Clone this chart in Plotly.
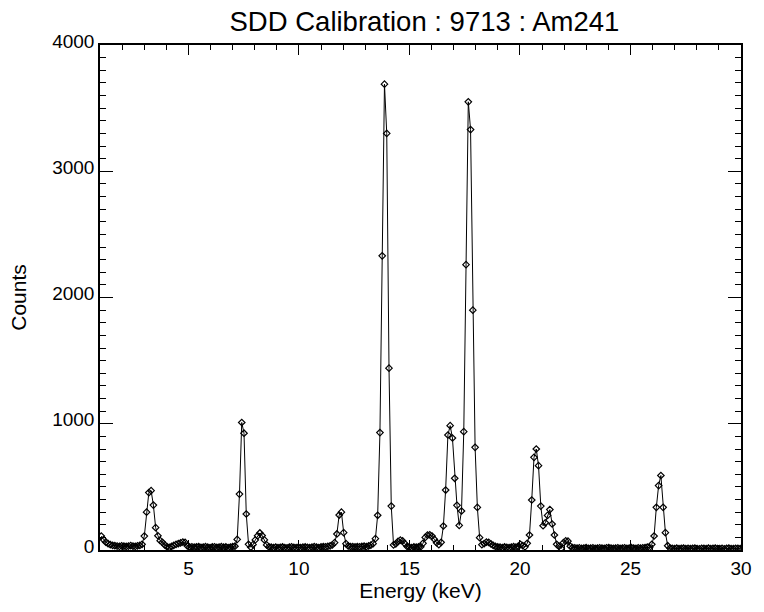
import plotly.graph_objects as go

# Channel calibration (keV)
energy_start = 1.0575
energy_step = 0.1025

# Counts per channel (segments in channel order)
counts_01_2keV = [110, 82, 62, 50, 42, 37, 34, 31, 29, 33, 30, 28, 31, 35, 30, 29, 33, 36, 45]
counts_3keV = [110, 300, 455, 470, 356, 177, 113, 74, 61, 40, 26, 21]
counts_5keV = [28, 37, 44, 50, 56, 63, 60, 32, 24]
counts_6keV = [25, 22, 24, 27, 21, 23, 26, 22, 20, 24, 25, 21, 23, 26, 22, 24, 20, 23, 27, 30]
counts_7keV = [84, 443, 1010, 925, 285, 45, 22, 42, 80, 112, 135, 115, 80, 40, 24]
counts_10keV = [22, 20, 23, 19, 21, 24, 20, 18, 22, 25, 21, 19, 23, 20, 22, 24, 21, 19, 22, 26,
                23, 20, 24, 27, 25, 29, 33]
counts_12keV = [40, 58, 127, 277, 300, 137, 50, 32, 27]
counts_13keV = [26, 24, 27, 25, 28, 30, 27, 32, 38, 50]
counts_14keV = [90, 275, 930, 2330, 3690, 3300, 1440, 348, 40]
counts_15keV = [48, 68, 78, 72, 50, 28, 22, 20, 24, 22]
counts_16keV = [24, 26, 53, 100, 118, 120, 110, 85, 58, 42, 61]
counts_17keV = [190, 475, 911, 985, 887, 568, 354, 195, 309, 937, 2260, 3550, 3330, 1900, 813, 337, 98, 42]
counts_19keV = [50, 62, 60, 48, 36, 28, 24, 22, 20, 24, 21, 19, 23, 26, 22]
counts_21keV = [28, 45, 35, 25, 53, 119, 396, 734, 800, 668, 348, 192, 216, 274, 320, 206, 119, 45]
counts_22keV = [30, 12, 58, 72, 70, 30, 20]
counts_25keV = [18, 15, 17, 14, 16, 19, 13, 15, 17, 14, 16, 18, 15, 13, 17, 20, 16, 14, 15, 18,
                13, 16, 17, 14, 15, 19, 16, 14, 17, 15, 18, 20, 22, 20]
counts_26keV = [45, 111, 338, 510, 590, 338, 137, 34, 15]
counts_30keV = [14, 12, 15, 11, 13, 16, 12, 14, 11, 13, 15, 12, 10, 14, 13, 11, 15, 12, 13, 16,
                11, 12, 14, 10, 13, 15, 12, 11, 14, 13, 12]

counts = (counts_01_2keV + counts_3keV + counts_5keV + counts_6keV + counts_7keV + counts_10keV
          + counts_12keV + counts_13keV + counts_14keV + counts_15keV + counts_16keV + counts_17keV
          + counts_19keV + counts_21keV + counts_22keV + counts_25keV + counts_26keV + counts_30keV)
energy = [energy_start + energy_step * i for i in range(len(counts))]

x_ticks = [5, 10, 15, 20, 25, 30]
y_ticks = [0, 1000, 2000, 3000, 4000]
title_text = "SDD Calibration : 9713 : Am241"
x_label = "Energy (keV)"
y_label = "Counts"

FONT = "Liberation Sans, Arial, Helvetica, sans-serif"

fig = go.Figure()
fig.add_trace(go.Scatter(
    x=energy, y=counts, mode="lines+markers",
    line=dict(color="black", width=1),
    marker=dict(symbol="diamond-open", size=5, color="black", line=dict(width=1.2, color="black")),
    showlegend=False,
))

fig.update_layout(
    width=764, height=612,
    margin=dict(l=100, r=14, t=45, b=62),
    paper_bgcolor="white", plot_bgcolor="white",
    font=dict(family=FONT, color="black", size=18),
    title=dict(text=title_text, x=(429 - 100) / 650, xref="paper", y=1 - 21 / 612, yref="container",
               yanchor="middle", xanchor="center", font=dict(size=27.5, family=FONT, color="black")),
)

fig.update_xaxes(
    range=[1, 30], tickvals=x_ticks, ticktext=[str(v) for v in x_ticks],
    ticks="inside", ticklen=10, tickwidth=1, tickcolor="black",
    showline=True, linecolor="black", linewidth=1.5, mirror="ticks",
    showgrid=False, zeroline=False, ticklabelstandoff=0,
    minor=dict(dtick=1, tick0=0, ticks="inside", ticklen=5, tickwidth=1, tickcolor="black", showgrid=False),
    tickfont=dict(size=19, family=FONT, color="black"),
    title=dict(text=x_label, font=dict(size=21, family=FONT, color="black"), standoff=0),
)
fig.update_yaxes(
    range=[0, 4000], tickvals=y_ticks, ticktext=[str(v) for v in y_ticks],
    ticks="inside", ticklen=13, tickwidth=1, tickcolor="black",
    showline=True, linecolor="black", linewidth=1.5, mirror="ticks",
    showgrid=False, zeroline=False, ticklabelshift=-4,
    minor=dict(dtick=100, tick0=0, ticks="inside", ticklen=6.5, tickwidth=1, tickcolor="black", showgrid=False),
    tickfont=dict(size=19, family=FONT, color="black"),
    title=dict(text=y_label, font=dict(size=21, family=FONT, color="black"), standoff=20),
)

fig.write_html("out.html")
